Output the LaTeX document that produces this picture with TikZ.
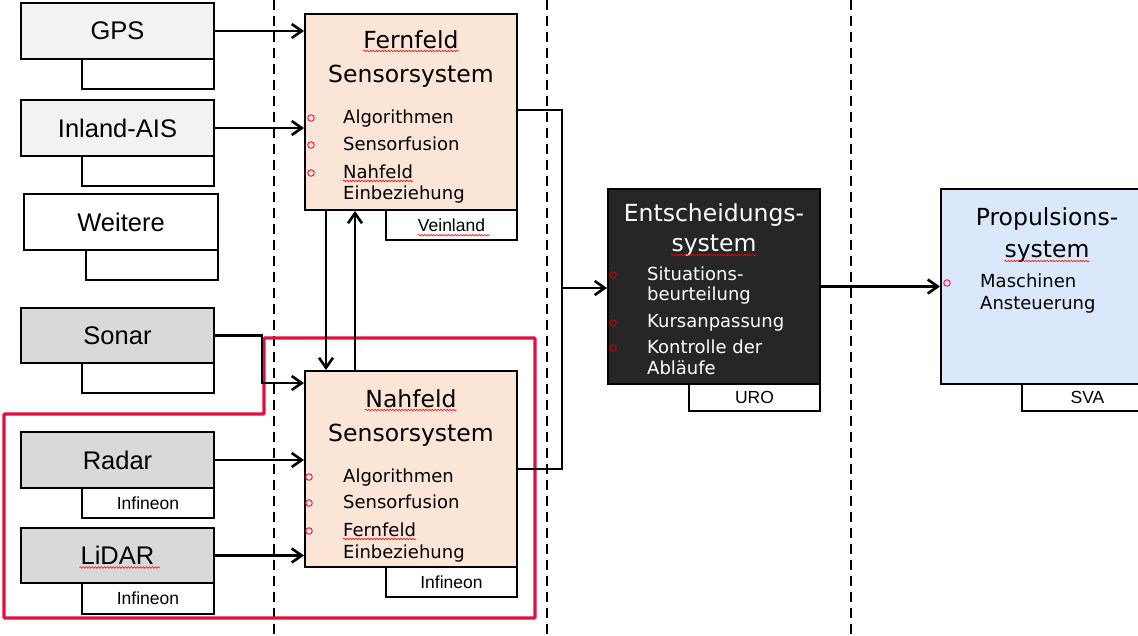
\documentclass[tikz,border=0pt]{standalone}
\usepackage{fontspec}
\setmainfont{Liberation Sans}
\newfontfamily\vfont{DejaVu Sans}
\usetikzlibrary{arrows.meta,calc,decorations.pathmorphing}
\definecolor{lgray}{HTML}{F2F2F2}
\definecolor{mgray}{HTML}{D9D9D9}
\definecolor{peach}{HTML}{FBE5D6}
\definecolor{dark}{HTML}{262626}
\definecolor{lblue}{HTML}{DAE8FC}
\definecolor{redline}{HTML}{E0103F}
\definecolor{bulletred}{HTML}{E8264F}
\tikzset{
 box/.style={draw=black, line width=2pt, inner sep=0pt, anchor=north west},
 lbl/.style={font=\fontsize{25.5}{30}\selectfont},
 sublbl/.style={font=\fontsize{17.5}{20}\selectfont},
 ttl/.style={font=\vfont\fontsize{23.5}{28}\selectfont, inner sep=0pt, anchor=base},
 itm/.style={font=\vfont\fontsize{18}{21}\selectfont, inner sep=0pt, anchor=base west},
 blt/.style={circle, draw=bulletred, line width=1pt, minimum size=6.5pt, inner sep=0pt},
 arr/.style={line width=2.6pt, -{Straight Barb[length=10pt,width=14pt,line width=2.6pt]}},
 conn/.style={line width=2.6pt},
 dashline/.style={line width=2.8pt, dash pattern=on 10pt off 6pt},
 redbox/.style={draw=redline, line width=3.2pt, rounded corners=1pt},
 squig/.style={draw=red, line width=0.6pt, decorate, decoration={snake, segment length=3pt, amplitude=0.8pt}},
}
\begin{document}
\begin{tikzpicture}[x=1pt,y=-1pt]
\useasboundingbox (0,0) rectangle (1138,635);
\clip (0,0) rectangle (1138,635);
\fill[white] (0,0) rectangle (1138,635);
% dashed separators
\draw[dashline] (274,0) -- (274,635);
\draw[dashline] (547,0) -- (547,635);
\draw[dashline] (851,0) -- (851,635);
% red frame
\draw[redbox] (4,414) -- (264,414) -- (264,338) -- (535,338) -- (535,618) -- (4,618) -- cycle;
% left sources
\node[box, fill=lgray, minimum width=193pt, minimum height=56pt, lbl] (gps) at (20,2) {GPS};
\node[box, fill=white, minimum width=132pt, minimum height=30pt] (gpssub) at (81,58) {};
\node[box, fill=lgray, minimum width=193pt, minimum height=56pt, lbl] (inland) at (20,99) {Inland-AIS};
\node[box, fill=white, minimum width=132pt, minimum height=30pt] (inlandsub) at (81,155) {};
\node[box, fill=white, minimum width=194pt, minimum height=56pt, lbl] (weitere) at (23,193) {Weitere};
\node[box, fill=white, minimum width=132pt, minimum height=30pt] (weiteresub) at (85,249) {};
\node[box, fill=mgray, minimum width=193pt, minimum height=55pt, lbl] (sonar) at (20,307) {Sonar};
\node[box, fill=white, minimum width=132pt, minimum height=30pt] (sonarsub) at (81,362) {};
\node[box, fill=mgray, minimum width=193pt, minimum height=56pt, lbl] (radar) at (20,431) {Radar};
\node[box, fill=white, minimum width=132pt, minimum height=30pt, sublbl] (radarsub) at (81,487) {Infineon};
\node[box, fill=mgray, minimum width=193pt, minimum height=55pt, lbl] (lidar) at (20,527) {LiDAR};
\node[box, fill=white, minimum width=132pt, minimum height=31pt, sublbl] (lidarsub) at (81,582) {Infineon};
\draw[squig] ($(lidar.center)+(-38,12)$) -- ($(lidar.center)+(42,12)$);
% Fernfeld
\node[box, fill=peach, minimum width=212pt, minimum height=196pt] (fern) at (304,13) {};
\node[box, fill=white, minimum width=131pt, minimum height=30pt, sublbl] (fernsub) at (385,209) {Veinland};
\node[ttl] (fernT1) at ($(fern.north)+(0,35)$) {Fernfeld};
\node[ttl] (fernT2) at ($(fern.north)+(0,69)$) {Sensorsystem};
\node[itm] (fernI1) at ($(fern.north west)+(39,110)$) {Algorithmen};
\node[itm] (fernI2) at ($(fern.north west)+(39,137)$) {Sensorfusion};
\node[itm] (fernI3) at ($(fern.north west)+(39,165)$) {Nahfeld};
\node[itm] (fernI4) at ($(fern.north west)+(39,186)$) {Einbeziehung};
\node[blt] (fernB1) at ($(fern.north west)+(7,105)$) {};
\node[blt] (fernB2) at ($(fern.north west)+(7,132)$) {};
\node[blt] (fernB3) at ($(fern.north west)+(7,160)$) {};
\draw[squig] ([yshift=-3pt]fernT1.base west) -- ([yshift=-3pt]fernT1.base east);
\draw[squig] ([yshift=-3pt]fernI3.base west) -- ([yshift=-3pt]fernI3.base east);
\draw[squig] ([yshift=-4pt]fernsub.base west) ++(33pt,0) -- ++(72pt,0);
% Nahfeld
\node[box, fill=peach, minimum width=212pt, minimum height=196pt] (nah) at (304,370) {};
\node[box, fill=white, minimum width=131pt, minimum height=30pt, sublbl] (nahsub) at (385,566) {Infineon};
\node[ttl] (nahT1) at ($(nah.north)+(0,37)$) {Nahfeld};
\node[ttl] (nahT2) at ($(nah.north)+(0,71)$) {Sensorsystem};
\node[itm] (nahI1) at ($(nah.north west)+(39,112)$) {Algorithmen};
\node[itm] (nahI2) at ($(nah.north west)+(39,138)$) {Sensorfusion};
\node[itm] (nahI3) at ($(nah.north west)+(39,166)$) {Fernfeld};
\node[itm] (nahI4) at ($(nah.north west)+(39,188)$) {Einbeziehung};
\node[blt] (nahB1) at ($(nah.north west)+(5,107)$) {};
\node[blt] (nahB2) at ($(nah.north west)+(5,133)$) {};
\node[blt] (nahB3) at ($(nah.north west)+(5,161)$) {};
\draw[squig] ([yshift=-3pt]nahT1.base west) -- ([yshift=-3pt]nahT1.base east);
\draw[squig] ([yshift=-3pt]nahI3.base west) -- ([yshift=-3pt]nahI3.base east);
% Entscheidung
\node[box, fill=dark, minimum width=212pt, minimum height=195pt] (ents) at (607,188) {};
\node[box, fill=white, minimum width=131pt, minimum height=27pt, sublbl] (entssub) at (688,383) {URO};
\node[ttl, text=white] (entsT1) at ($(ents.north)+(0,33)$) {Entscheidungs-};
\node[ttl, text=white] (entsT2) at ($(ents.north)+(0,63)$) {system};
\node[itm, text=white] (entsI1) at ($(ents.north west)+(40,92)$) {Situations-};
\node[itm, text=white] (entsI2) at ($(ents.north west)+(40,112)$) {beurteilung};
\node[itm, text=white] (entsI3) at ($(ents.north west)+(40,139)$) {Kursanpassung};
\node[itm, text=white] (entsI4) at ($(ents.north west)+(40,165)$) {Kontrolle der};
\node[itm, text=white] (entsI5) at ($(ents.north west)+(40,186)$) {Abläufe};
\node[blt, draw=red!75!black] (entsB1) at ($(ents.north west)+(6,87)$) {};
\node[blt, draw=red!75!black] (entsB2) at ($(ents.north west)+(6,135)$) {};
\node[blt, draw=red!75!black] (entsB3) at ($(ents.north west)+(6,160)$) {};
\draw[squig] ([yshift=-4pt]entsT2.base west) -- ([yshift=-4pt]entsT2.base east);
% Propulsion
\node[box, fill=lblue, minimum width=212pt, minimum height=195pt] (prop) at (940,188) {};
\node[box, fill=white, minimum width=131pt, minimum height=27pt, sublbl] (propsub) at (1021,383) {SVA};
\node[ttl] (propT1) at ($(prop.north)+(0,37)$) {Propulsions-};
\node[ttl] (propT2) at ($(prop.north)+(0,69)$) {system};
\node[itm] (propI1) at ($(prop.north west)+(40,99)$) {Maschinen};
\node[itm] (propI2) at ($(prop.north west)+(40,121)$) {Ansteuerung};
\node[blt] (propB1) at ($(prop.north west)+(7,95)$) {};
\draw[squig] ([yshift=-4pt]propT2.base west) -- ([yshift=-4pt]propT2.base east);
% connectors
\draw[arr] (gps.east) -- (gps.east -| fern.west);
\draw[arr] (inland.east) -- (inland.east -| fern.west);
\draw[arr] (sonar.east) -- ++(47,0) |- ($(nah.north west)+(0,13)$);
\draw[arr] (radar.east) -- (radar.east -| nah.west);
\draw[arr] (lidar.east) -- (lidar.east -| nah.west);
\draw[arr] ($(fern.south west)+(22,0)$) -- ($(nah.north west)+(22,0)$);
\draw[arr] ($(nah.north west)+(51,0)$) -- ($(fern.south west)+(51,0)$);
\coordinate (junc) at ($(ents.west)+(-45,1.5)$);
\draw[conn] ($(fern.north east)+(0,97)$) -| (junc) |- ($(nah.north east)+(0,99)$);
\draw[arr] (junc) -- (junc -| ents.west);
\draw[arr] (ents.east) -- (prop.west);
\end{tikzpicture}
\end{document}
